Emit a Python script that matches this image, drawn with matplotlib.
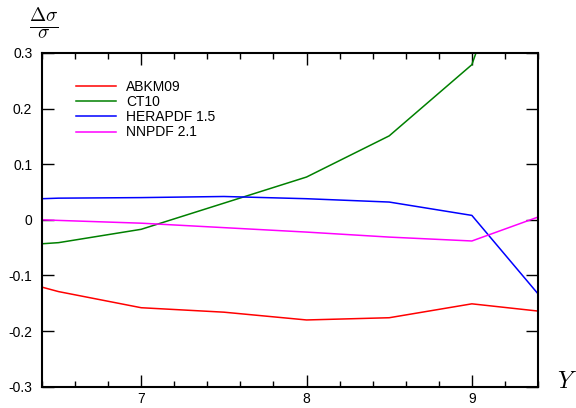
import matplotlib
matplotlib.use("Agg")
import matplotlib.pyplot as plt
from matplotlib.ticker import MultipleLocator, FuncFormatter

plt.rcParams["font.family"] = ["Liberation Sans", "DejaVu Sans"]
plt.rcParams["mathtext.fontset"] = "cm"

# === Data ===
rapidity = [6.4, 6.5, 7.0, 7.5, 8.0, 8.5, 9.0, 9.4]
abkm09 = [-0.121, -0.129, -0.158, -0.166, -0.180, -0.176, -0.151, -0.164]
ct10 = [-0.043, -0.041, -0.017, 0.030, 0.077, 0.151, 0.279, 0.62]
herapdf = [0.038, 0.039, 0.040, 0.042, 0.038, 0.032, 0.008, -0.133]
nnpdf = [0.000, -0.001, -0.006, -0.014, -0.022, -0.031, -0.038, 0.005]

labels = ["ABKM09", "CT10", "HERAPDF 1.5", "NNPDF 2.1"]
colors = ["#ff0000", "#008000", "#0000ff", "#ff00ff"]

fig = plt.figure(figsize=(5.76, 4.08), dpi=100)
ax = fig.add_axes([42 / 576, 1 - 386.7 / 408, 496 / 576, 333.7 / 408])

for series, lab, col in zip([abkm09, ct10, herapdf, nnpdf], labels, colors):
    ax.plot(rapidity, series, color=col, lw=1.1, label=lab)

ax.set_xlim(6.4, 9.4)
ax.set_ylim(-0.3, 0.3)

ax.xaxis.set_major_locator(MultipleLocator(1))
ax.xaxis.set_minor_locator(MultipleLocator(0.2))
ax.yaxis.set_major_locator(MultipleLocator(0.1))


def yfmt(v, pos):
    if abs(v) < 1e-9:
        return "0"
    return f"{v:.1f}"


ax.yaxis.set_major_formatter(FuncFormatter(yfmt))
ax.xaxis.set_major_formatter(FuncFormatter(lambda v, p: f"{v:.0f}"))

ax.tick_params(which="both", direction="in", top=True, right=True,
               labelsize=10, width=1.0)
ax.tick_params(which="major", length=8.6)
ax.tick_params(which="minor", length=4.3)
ax.tick_params(axis="y", pad=7)
ax.tick_params(axis="x", pad=4)
for sp in ax.spines.values():
    sp.set_linewidth(1.5)

ax.legend(loc="upper left", bbox_to_anchor=(0.057, 0.9355), frameon=False,
          fontsize=10, handlelength=2.9, handletextpad=0.7,
          labelspacing=0.08, borderaxespad=0)

fig.text(44 / 576, 1 - 23 / 408, r"$\frac{\Delta\sigma}{\sigma}$",
         ha="center", va="center", fontsize=20)
fig.text(567 / 576, 1 - 382 / 408, r"$Y$", ha="center", va="center",
         fontsize=17)

fig.savefig("out.png", dpi=100)
plt.close(fig)
